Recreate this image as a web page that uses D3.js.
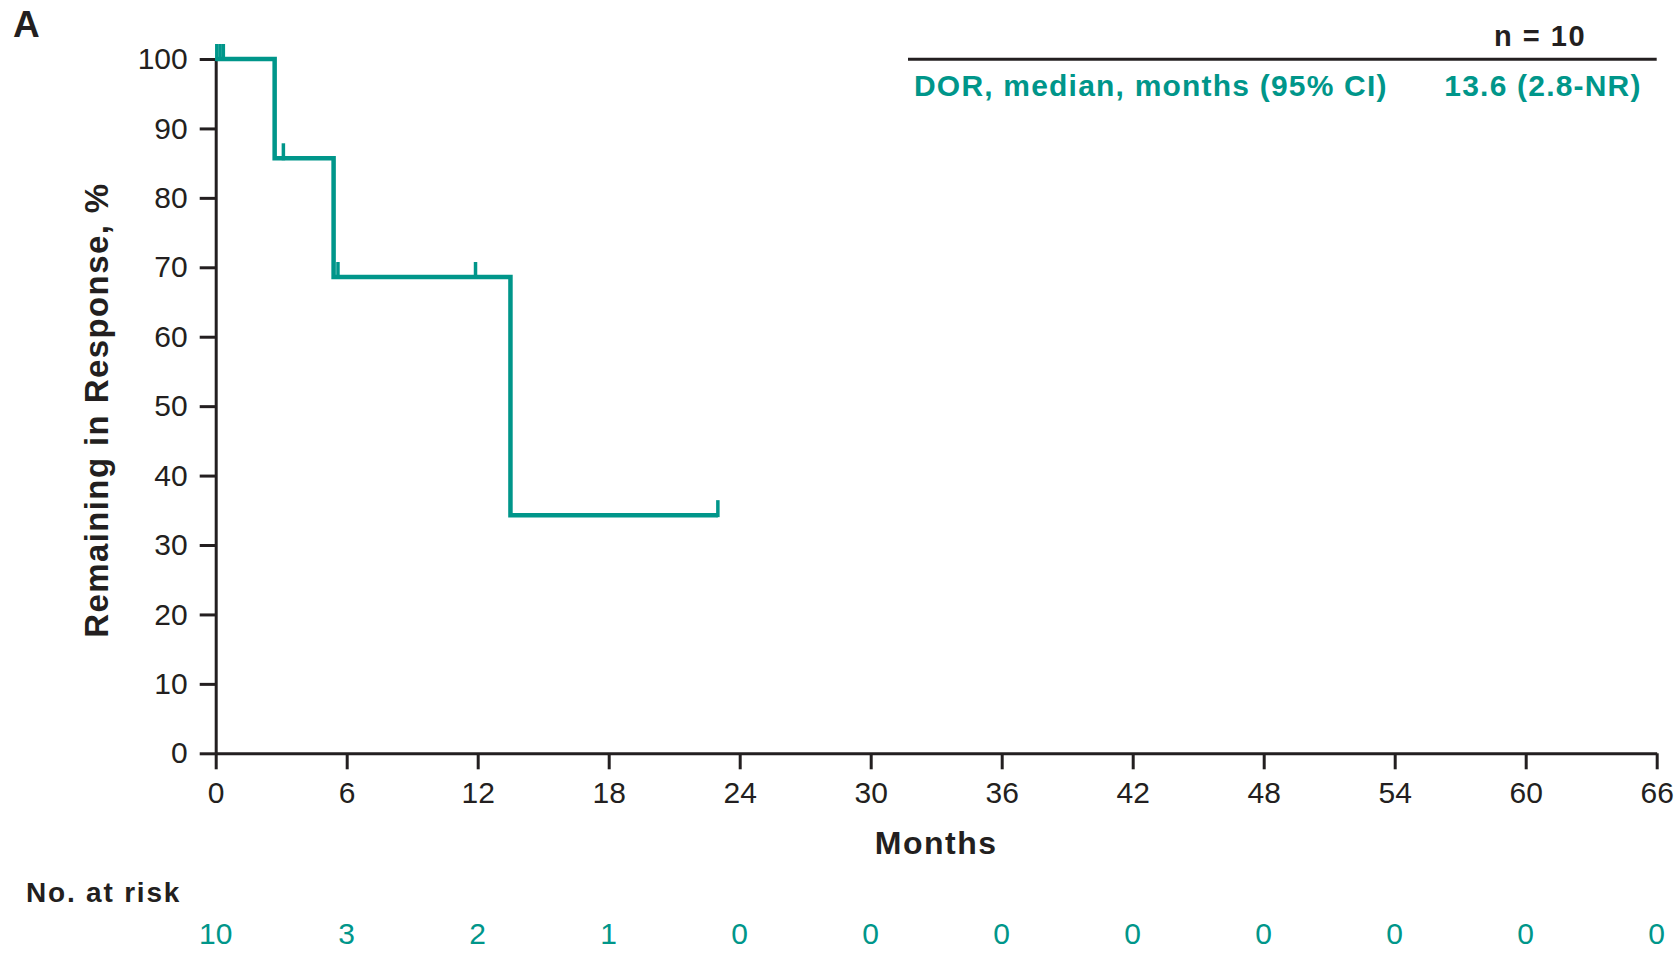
<!DOCTYPE html>
<html>
<head>
<meta charset="utf-8">
<script src="https://cdn.jsdelivr.net/npm/d3@7"></script>
<style>
	body { margin: 0; background: #fff; }
	svg { display: block; font-family: "Liberation Sans", Arial, sans-serif; }
	.axis path, .axis line { stroke: #231f20; stroke-width: 3px; }
	.axis text { fill: #231f20; font-size: 30px; }
</style>
</head>
<body>
<svg></svg>
<script>
// Kaplan-Meier steps: time of each event (months) and survival after it (%)
var event_times = [0, 2.7, 5.4, 13.5],
	event_surv = [100, 85.7, 68.6, 34.3];

// Censored observations (months), and last follow-up
var censor_times = [0.05, 0.2, 0.35, 3.1, 5.6, 11.9, 23.0],
	END_TIME = 23.0;

var x_ticks = [0, 6, 12, 18, 24, 30, 36, 42, 48, 54, 60, 66],
	y_ticks = [0, 10, 20, 30, 40, 50, 60, 70, 80, 90, 100],
	at_risk = [10, 3, 2, 1, 0, 0, 0, 0, 0, 0, 0, 0];

var TEAL = "#00968a",
	DARK = "#231f20";

var WIDTH = 1680,
	HEIGHT = 954,
	LEFT_X = 215.7,
	RIGHT_X = 1656.7,
	TOP_Y = 59,
	BOTTOM_Y = 753.3,
	TICK = 16,
	CENSOR_H = 15;

var svg = d3.select("svg")
	.attr("width", WIDTH)
	.attr("height", HEIGHT);

var x = d3.scaleLinear().domain([0, 66]).range([LEFT_X, RIGHT_X]);
var y = d3.scaleLinear().domain([0, 100]).range([BOTTOM_Y, TOP_Y]);

//////////// Axes

svg.append("g")
	.attr("class", "axis")
	.attr("transform", "translate(0," + BOTTOM_Y + ")")
	.call(d3.axisBottom(x).tickValues(x_ticks).tickSize(TICK).tickSizeOuter(0).tickPadding(12));

svg.append("g")
	.attr("class", "axis")
	.attr("transform", "translate(" + LEFT_X + ",0)")
	.call(d3.axisLeft(y).tickValues(y_ticks).tickSize(TICK).tickSizeOuter(0).tickPadding(12));

svg.selectAll(".axis text").attr("font-family", null).attr("font-size", null);

// Axis titles
svg.append("text")
	.text("Months")
	.attr("x", (LEFT_X + RIGHT_X) / 2)
	.attr("y", 854)
	.attr("text-anchor", "middle")
	.attr("font-size", 32)
	.attr("font-weight", "bold")
	.attr("letter-spacing", 1.5)
	.attr("fill", DARK);

svg.append("text")
	.text("Remaining in Response, %")
	.attr("transform", "translate(108," + (y(50) + 4) + ") rotate(-90)")
	.attr("text-anchor", "middle")
	.attr("font-size", 33)
	.attr("font-weight", "bold")
	.attr("letter-spacing", 1.4)
	.attr("fill", DARK);

// Panel letter
svg.append("text")
	.text("A")
	.attr("x", 13)
	.attr("y", 37)
	.attr("font-size", 37)
	.attr("font-weight", "bold")
	.attr("fill", DARK);

//////////// KM curve

var pts = [];
event_times.forEach(function(t, i) {
	if (i > 0) pts.push([t, event_surv[i - 1]]);
	pts.push([t, event_surv[i]]);
});
pts.push([END_TIME, event_surv[event_surv.length - 1]]);

svg.append("path")
	.datum(pts)
	.attr("fill", "none")
	.attr("stroke", TEAL)
	.attr("stroke-width", 4.5)
	.attr("stroke-linejoin", "miter")
	.attr("d", d3.line()
		.x(function(d) { return x(d[0]); })
		.y(function(d) { return y(d[1]); }));

// Survival level at time t (step function)
function surv_at(t) {
	var s = 100;
	event_times.forEach(function(et, i) { if (et <= t) s = event_surv[i]; });
	return s;
}

svg.selectAll("line.censor")
	.data(censor_times)
  .enter().append("line")
	.attr("class", "censor")
	.attr("x1", function(d) { return x(d); })
	.attr("x2", function(d) { return x(d); })
	.attr("y1", function(d) { return y(surv_at(d)) + 2; })
	.attr("y2", function(d) { return y(surv_at(d)) - CENSOR_H; })
	.attr("stroke", TEAL)
	.attr("stroke-width", 3.5);

//////////// Summary table (top right)

svg.append("text")
	.text("n = 10")
	.attr("x", 1540)
	.attr("y", 46)
	.attr("text-anchor", "middle")
	.attr("font-size", 29)
	.attr("font-weight", "bold")
	.attr("letter-spacing", 1.5)
	.attr("fill", DARK);

svg.append("line")
	.attr("x1", 908)
	.attr("x2", RIGHT_X)
	.attr("y1", 59.3)
	.attr("y2", 59.3)
	.attr("stroke", DARK)
	.attr("stroke-width", 3);

svg.append("text")
	.text("DOR, median, months (95% CI)")
	.attr("x", 914)
	.attr("y", 96)
	.attr("font-size", 30)
	.attr("font-weight", "bold")
	.attr("letter-spacing", 1.2)
	.attr("fill", TEAL);

svg.append("text")
	.text("13.6 (2.8-NR)")
	.attr("x", 1543)
	.attr("y", 96)
	.attr("text-anchor", "middle")
	.attr("font-size", 30)
	.attr("font-weight", "bold")
	.attr("letter-spacing", 1.2)
	.attr("fill", TEAL);

//////////// Number at risk

svg.append("text")
	.text("No. at risk")
	.attr("x", 26)
	.attr("y", 902)
	.attr("font-size", 28)
	.attr("font-weight", "bold")
	.attr("letter-spacing", 1.8)
	.attr("fill", DARK);

svg.selectAll("text.risk")
	.data(at_risk)
  .enter().append("text")
	.attr("class", "risk")
	.text(function(d) { return d; })
	.attr("x", function(d, i) { return x(x_ticks[i]); })
	.attr("y", 944)
	.attr("text-anchor", "middle")
	.attr("font-size", 30)
	.attr("fill", TEAL);
</script>
</body>
</html>
